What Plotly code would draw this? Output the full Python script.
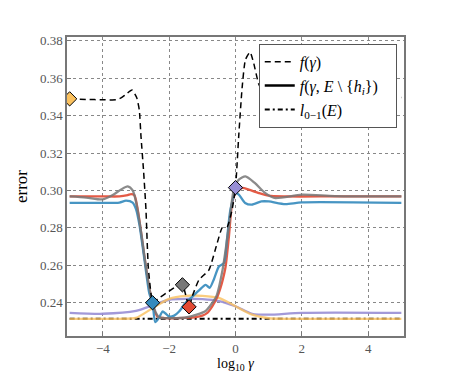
import plotly.graph_objects as go

# ---- data (log10 gamma, error) ----
f_x = [-5, -4.5, -4, -3.6, -3.45, -3.3, -3.12, -2.98, -2.9, -2.85, -2.77, -2.7, -2.63, -2.55, -2.5,
       -2.3, -2.05, -1.8, -1.6, -1.5, -1.4, -1.3, -1.1, -0.8, -0.55, -0.4, -0.25, -0.1, 0.0,
       0.1, 0.2, 0.3, 0.44, 0.55, 0.7, 0.9, 1.2, 3, 5]
f_y = [0.349, 0.3487, 0.3485, 0.3485, 0.3495, 0.3515, 0.3537, 0.3497, 0.343, 0.329, 0.31, 0.29, 0.259, 0.245, 0.240,
       0.2425, 0.2455, 0.2485, 0.2495, 0.244, 0.2377, 0.2435, 0.2522, 0.2575, 0.272, 0.280, 0.2806, 0.290, 0.3015,
       0.330, 0.355, 0.370, 0.374, 0.368, 0.357, 0.351, 0.3497, 0.3497, 0.3497]

red_x = [-5, -4, -3.5, -3.25, -3.15, -3.05, -2.95, -2.85, -2.75, -2.65, -2.55, -2.45, -2.35, -2.2, -2.0,
         -1.5, -1.2, -1.0, -0.85, -0.7, -0.55, -0.45, -0.38, -0.3, -0.2, -0.1, 0.0, 0.2, 0.4, 0.7, 1.0, 1.5, 3, 5]
red_y = [0.2968, 0.2968, 0.2968, 0.2975, 0.298, 0.2975, 0.290, 0.278, 0.265, 0.253, 0.243, 0.236, 0.2325, 0.2318, 0.2316,
         0.2318, 0.2322, 0.233, 0.2345, 0.238, 0.243, 0.248, 0.2525, 0.259, 0.275, 0.2933, 0.2986, 0.3013, 0.3004, 0.2986, 0.2972, 0.2968, 0.2968, 0.2968]

gray_x = [-5, -4.5, -4, -3.7, -3.45, -3.25, -3.1, -3.0, -2.9, -2.8, -2.7, -2.6, -2.5, -2.4, -2.3, -2.15,
          -1.8, -1.5, -1.17, -0.9, -0.78, -0.58, -0.39, -0.2, -0.05, 0.1, 0.3, 0.58, 0.88, 1.17, 2.0, 3.0, 5]
gray_y = [0.2968, 0.2962, 0.2952, 0.2975, 0.3005, 0.3022, 0.300, 0.294, 0.284, 0.272, 0.259, 0.248, 0.240, 0.2345, 0.232, 0.2317,
          0.2317, 0.232, 0.2335, 0.2355, 0.2379, 0.2432, 0.2575, 0.2807, 0.3004, 0.3058, 0.3075, 0.304, 0.2988, 0.296, 0.2977, 0.297, 0.2968]

blue_x = [-5, -4, -3.5, -3.3, -3.1, -3.0, -2.9, -2.8, -2.7, -2.6, -2.5, -2.42, -2.3, -2.2, -2.1, -2.0, -1.85, -1.7,
          -1.5, -1.3, -1.1, -0.9, -0.78, -0.65, -0.5, -0.35, -0.25, -0.15, 0.0, 0.1, 0.29, 0.49, 0.78, 1.0, 1.5, 2.0, 5]
blue_y = [0.2933, 0.2933, 0.2935, 0.2945, 0.2935, 0.290, 0.282, 0.270, 0.257, 0.245, 0.2398, 0.2295, 0.232, 0.2352, 0.234, 0.2325, 0.233, 0.2352,
          0.240, 0.2432, 0.2465, 0.2495, 0.2479, 0.2525, 0.2593, 0.2611, 0.275, 0.290, 0.2986, 0.2977, 0.2933, 0.2924, 0.2941, 0.2941, 0.2927, 0.2936, 0.2933]

purple_x = [-5, -4, -3, -2.5, -2, -1.5, -1, -0.5, 0, 0.5, 1, 2, 5]
purple_y = [0.2345, 0.234, 0.2355, 0.2385, 0.2415, 0.2420, 0.2418, 0.2408, 0.238, 0.234, 0.2335, 0.2345, 0.2345]

yellow_x = [-5, -3.5, -3, -2.5, -2, -1.5, -1, -0.5, 0, 0.5, 1, 1.5, 5]
yellow_y = [0.2313, 0.2313, 0.2318, 0.237, 0.2420, 0.2436, 0.2436, 0.2425, 0.238, 0.2335, 0.2316, 0.2313, 0.2313]

l01_x = [-5, 5]
l01_y = [0.2313, 0.2313]

diam_x = [-5, -2.5, -1.6, -1.4, 0.0]
diam_y = [0.349, 0.2399, 0.2495, 0.2377, 0.3015]

RED, BLUE, PURPLE, GRAY, YELLOW = "#E24A33", "#348ABD", "#988ED5", "#777777", "#FBC15E"
diam_colors = [YELLOW, BLUE, GRAY, RED, PURPLE]

x_ticks = [-4, -2, 0, 2, 4]
y_ticks = [0.24, 0.26, 0.28, 0.30, 0.32, 0.34, 0.36, 0.38]

FONT = "Liberation Serif"

fig = go.Figure()

fig.add_trace(go.Scatter(x=l01_x, y=l01_y, mode="lines", showlegend=False,
                         line=dict(color="black", width=2, dash="5px,3px,2px,3px")))

for xs, ys, c, op in [(purple_x, purple_y, PURPLE, 0.9), (yellow_x, yellow_y, YELLOW, 0.8),
                      (red_x, red_y, RED, 0.9), (blue_x, blue_y, BLUE, 0.9), (gray_x, gray_y, GRAY, 0.85)]:
    fig.add_trace(go.Scatter(x=xs, y=ys, mode="lines", showlegend=False, opacity=op,
                             line=dict(color=c, width=2.3, shape="spline", smoothing=0.7)))

fig.add_trace(go.Scatter(x=f_x, y=f_y, mode="lines", showlegend=False,
                         line=dict(color="black", width=1.5, dash="6px,4px", shape="spline", smoothing=0.5)))

fig.add_trace(go.Scatter(x=diam_x, y=diam_y, mode="markers", showlegend=False,
                         marker=dict(symbol="diamond", size=11, color=diam_colors,
                                     line=dict(color="black", width=1))))

# legend entries
fig.add_trace(go.Scatter(x=[None], y=[None], mode="lines", name="<i>f</i>(<i>γ</i>)",
                         line=dict(color="black", width=1.5, dash="6px,4px")))
fig.add_trace(go.Scatter(x=[None], y=[None], mode="lines",
                         name="<i>f</i>(<i>γ</i>, <i>E</i> \\ {<i>h<sub>i</sub></i>})&nbsp;&nbsp;&nbsp;",
                         line=dict(color="black", width=2.5)))
fig.add_trace(go.Scatter(x=[None], y=[None], mode="lines", name="<i>l</i><sub>0−1</sub>(<i>E</i>)",
                         line=dict(color="black", width=2, dash="5px,3px,2px,3px")))

axis_common = dict(showgrid=True, gridcolor="#888888", griddash="dot", gridwidth=1,
                   showline=True, linecolor="#777777", linewidth=1.5, mirror=True,
                   ticks="inside", ticklen=4, tickcolor="#777777",
                   tickfont=dict(family=FONT, size=13, color="#555555"), zeroline=False)

# page body adds an 8px offset, so the figure is 8px smaller and margins shifted
fig.update_layout(
    width=441, height=366,
    margin=dict(l=48, r=45, t=29, b=38),
    paper_bgcolor="white", plot_bgcolor="white",
    font=dict(family=FONT, color="black"),
    xaxis=dict(range=[-5.08, 5.08], tickvals=x_ticks, **axis_common),
    yaxis=dict(range=[0.2221, 0.3821], tickvals=y_ticks, tickformat=".2f",
               title=dict(text="error", font=dict(family=FONT, size=17), standoff=8),
               **axis_common),
    legend=dict(x=0.569, y=0.977, xanchor="left", yanchor="top", bgcolor="white",
                bordercolor="#555555", borderwidth=1, font=dict(family=FONT, size=16),
                tracegroupgap=0),
    annotations=[dict(text="log<sub>10</sub> <i>γ</i>", xref="paper", yref="paper",
                      x=0.5, y=-0.094, xanchor="center", yanchor="middle", showarrow=False,
                      font=dict(family=FONT, size=14, color="black"))],
)

fig.write_html("out.html")
